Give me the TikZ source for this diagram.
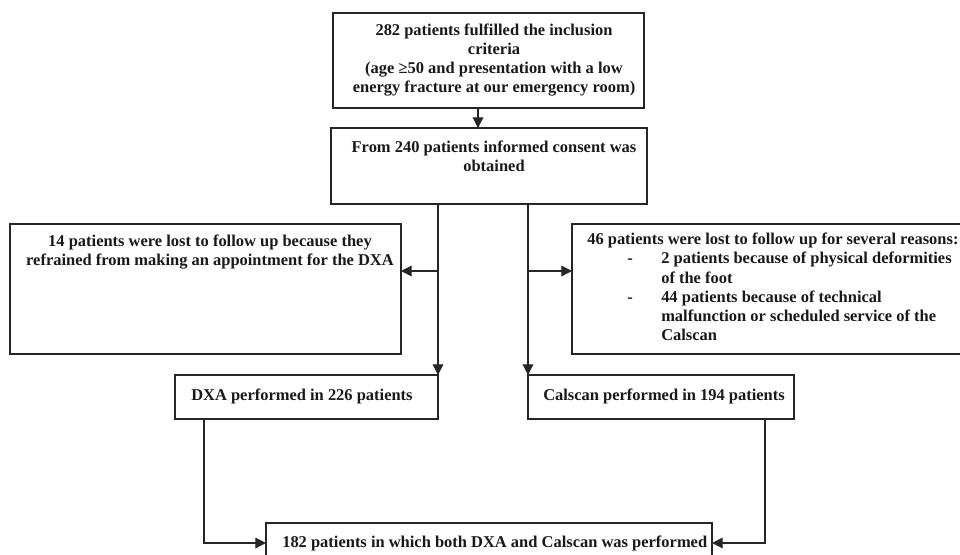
\documentclass[tikz,border=0pt]{standalone}
\usepackage{fontspec}
\setmainfont{Liberation Serif}
\usetikzlibrary{fit,arrows.meta}
\begin{document}
\begin{tikzpicture}[x=0.75pt,y=-0.75pt,
  box/.style={draw=black!85,line width=0.9pt,inner sep=0pt,outer sep=0pt},
  txt/.style={inner sep=0pt,font=\fontsize{12.35}{14.3}\selectfont\bfseries,text=black!90},
  conn/.style={draw=black!85,line width=0.9pt},
  arr/.style={conn,-{Triangle[length=8pt,width=8pt]}}]
\useasboundingbox[fill=white] (0,0) rectangle (960,554);
% boxes
\node[box,fit={(333,13) (644,108)}] (b1) {};
\node[box,fit={(331,128) (647,204)}] (b2) {};
\node[box,fit={(10,224) (401,354)}] (b3) {};
\node[box,fit={(572,224) (963,354)}] (b4) {};
\node[box,fit={(175,375) (438,419)}] (b5) {};
\node[box,fit={(528,375) (794,419)}] (b6) {};
\node[box,fit={(266,523) (712,570)}] (b7) {};
% texts
\node[txt,align=center] (t1) at (494,60) {282 patients fulfilled the inclusion\\criteria\\(age ≥50 and presentation with a low\\energy fracture at our emergency room)};
\node[txt,align=center] (t2) at (494,156) {From 240 patients informed consent was\\obtained};
\node[txt,align=center] (t3) at (210,252) {14 patients were lost to follow up because they\\refrained from making an appointment for the DXA};
\node[txt,align=left,anchor=north west] (t4) at (587,233) {46 patients were lost to follow up for several reasons:\\
\hspace*{30pt}\makebox[25.5pt][l]{-}2 patients because of physical deformities\\
\hspace*{55.5pt}of the foot\\
\hspace*{30pt}\makebox[25.5pt][l]{-}44 patients because of technical\\
\hspace*{55.5pt}malfunction or scheduled service of the\\
\hspace*{55.5pt}Calscan};
\node[txt,anchor=west] (t5) at (191,396) {DXA performed in 226 patients};
\node[txt,anchor=west] (t6) at (543,396) {Calscan performed in 194 patients};
\node[txt,anchor=west] (t7) at (282,543) {182 patients in which both DXA and Calscan was performed};
% junction coordinates
\coordinate (jl) at (438,271);
\coordinate (jr) at (528,271);
% connectors
\draw[arr] (b1.south -| 478,0) -- (b2.north -| 478,0);
\draw[conn] (b2.south -| jl) -- (jl);
\draw[arr] (jl) -- (b3.east |- jl);
\draw[arr] (jl) -- (jl |- b5.north);
\draw[conn] (b2.south -| jr) -- (jr);
\draw[arr] (jr) -- (b4.west |- jr);
\draw[arr] (jr) -- (jr |- b6.north);
\draw[arr] (b5.south -| 204,0) |- (b7.west |- 0,543);
\draw[arr] (b6.south -| 765,0) |- (b7.east |- 0,543);
\end{tikzpicture}
\end{document}
